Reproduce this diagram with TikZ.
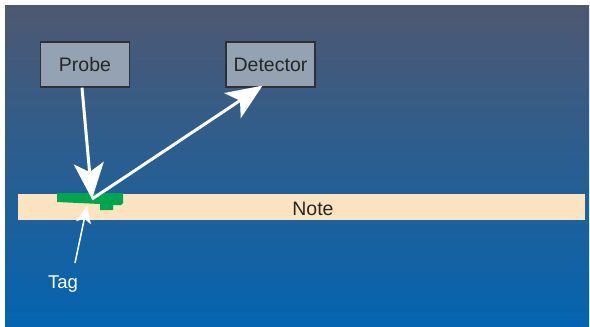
\documentclass[tikz,border=0pt]{standalone}
\usepackage{fontspec}
\setmainfont{Liberation Sans}
\usetikzlibrary{arrows.meta}
\definecolor{bgtop}{RGB}{78,88,113}
\definecolor{bgmid}{RGB}{46,93,141}
\definecolor{bgbot}{RGB}{4,100,177}
\definecolor{boxfill}{RGB}{148,162,179}
\definecolor{boxedge}{RGB}{45,48,55}
\definecolor{notefill}{RGB}{253,228,192}
\definecolor{tagfill}{RGB}{0,165,80}
\tikzset{
  labelfont/.style={font=\fontsize{19.5}{22}\selectfont},
  unitbox/.style={draw=boxedge, line width=1.3pt, fill=boxfill, minimum width=89pt,
    minimum height=45pt, inner sep=0pt, text=black!85, labelfont},
  beam/.style={draw=white, line width=3pt,
    -{Stealth[length=36pt, width=30pt, inset=9pt]}},
  pointer/.style={draw=white, line width=1.5pt,
    -{Stealth[length=17pt, width=15pt, inset=4pt]}},
}
\begin{document}
\begin{tikzpicture}[x=1pt, y=-1pt]
  \useasboundingbox (0,0) rectangle (590,327);
  % background panel
  \shade[top color=bgtop, middle color=bgmid, bottom color=bgbot]
    (5,5) rectangle (589,326);
  % paper strip
  \node (note) [fill=notefill, minimum width=567pt, minimum height=26pt, inner sep=0pt,
    label={[xshift=11.5pt, yshift=-2pt, text=black!85, labelfont]center:Note}]
    at (301.5,207) {};
  % tag on the strip
  \fill[tagfill] (57,193) -- (123,193) -- (123,203) -- (121,205) -- (113,205)
    -- (113,210) -- (100,210) -- (100,204) -- (57,202) -- cycle;
  % instruments
  \node (probe) [unitbox] at (85,64.5) {Probe};
  \node (detector) [unitbox] at (270.5,64.5) {Detector};
  \node (tag) [text=white, font=\fontsize{18.5}{21}\selectfont, inner sep=2pt] at (63,284) {Tag};
  \coordinate (hit) at (92,199);
  \coordinate (tagtip) at (87,206);
  \coordinate (tagtail) at (75,263);
  % beams
  \draw[beam] ([xshift=-3pt]probe.south) -- (hit);
  \draw[beam] (hit) -- ([xshift=-8pt,yshift=2pt]detector.south);
  \draw[pointer] (tagtail) -- (tagtip);
\end{tikzpicture}
\end{document}
